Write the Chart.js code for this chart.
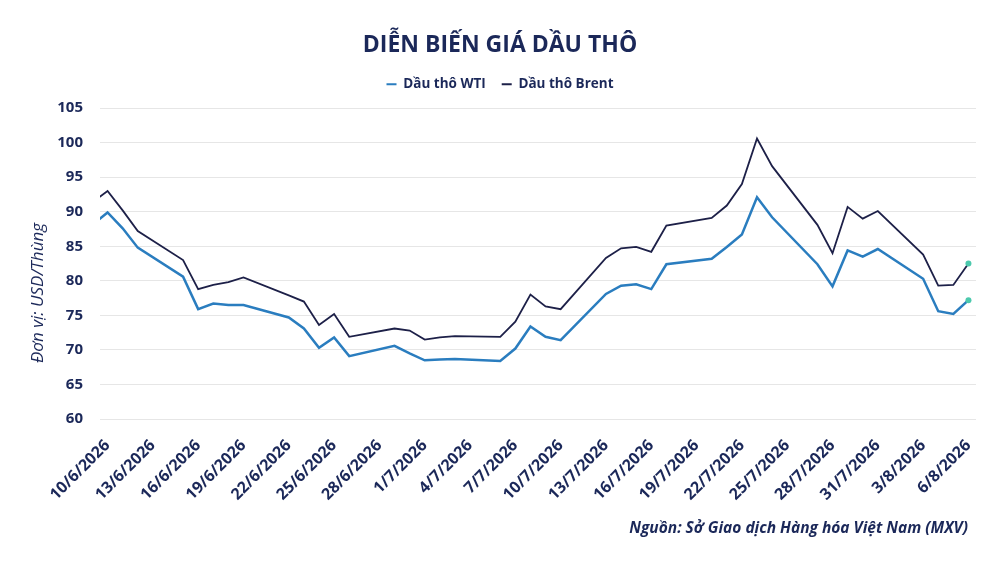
<!DOCTYPE html>
<html lang="vi">
<head>
<meta charset="utf-8">
<title>Diễn biến giá dầu thô</title>
<script src="https://cdn.jsdelivr.net/npm/chart.js@4.4.1/dist/chart.umd.min.js"></script>
<style>
  html, body { margin: 0; padding: 0; background: #fff; }
  #wrap { width: 1000px; height: 563px; position: relative; }
</style>
</head>
<body>
<div id="wrap"><canvas id="oilChart"></canvas></div>
<script>
// Ngày theo lịch (9/6 chỉ lộ một mẩu ở mép trái), giá USD/thùng, null = không giao dịch
const dates = [
  '9/6/2026', '10/6/2026', '11/6/2026', '12/6/2026', '13/6/2026', '14/6/2026', '15/6/2026',
  '16/6/2026', '17/6/2026', '18/6/2026', '19/6/2026', '20/6/2026', '21/6/2026', '22/6/2026',
  '23/6/2026', '24/6/2026', '25/6/2026', '26/6/2026', '27/6/2026', '28/6/2026', '29/6/2026',
  '30/6/2026', '1/7/2026', '2/7/2026', '3/7/2026', '4/7/2026', '5/7/2026', '6/7/2026',
  '7/7/2026', '8/7/2026', '9/7/2026', '10/7/2026', '11/7/2026', '12/7/2026', '13/7/2026',
  '14/7/2026', '15/7/2026', '16/7/2026', '17/7/2026', '18/7/2026', '19/7/2026', '20/7/2026',
  '21/7/2026', '22/7/2026', '23/7/2026', '24/7/2026', '25/7/2026', '26/7/2026', '27/7/2026',
  '28/7/2026', '29/7/2026', '30/7/2026', '31/7/2026', '1/8/2026', '2/8/2026', '3/8/2026',
  '4/8/2026', '5/8/2026', '6/8/2026'
];

const wti = [
  88.1, 89.9, 87.6, 84.8, null, null, 80.6,
  75.9, 76.7, 76.5, 76.5, null, null, 74.7,
  73.1, 70.3, 71.8, 69.1, null, null, 70.6,
  69.5, 68.5, 68.6, 68.7, null, null, 68.4,
  70.2, 73.4, 71.9, 71.4, null, null, 78.1,
  79.3, 79.5, 78.8, 82.4, null, null, 83.2,
  84.9, 86.7, 92.1, 89.2, null, null, 82.4,
  79.2, 84.4, 83.5, 84.6, null, null, 80.3,
  75.6, 75.2, 77.2
];

const brent = [
  91.4, 93.0, 90.2, 87.2, null, null, 83.0,
  78.8, 79.4, 79.8, 80.5, null, null, 77.9,
  77.0, 73.6, 75.2, 71.9, null, null, 73.1,
  72.8, 71.5, 71.8, 72.0, null, null, 71.9,
  74.1, 78.0, 76.3, 75.9, null, null, 83.3,
  84.7, 84.9, 84.2, 88.0, null, null, 89.1,
  90.9, 94.0, 100.6, 96.6, null, null, 88.1,
  84.0, 90.7, 89.0, 90.1, null, null, 83.8,
  79.3, 79.4, 82.5
];

const xTickDates = [
  '10/6/2026', '13/6/2026', '16/6/2026', '19/6/2026', '22/6/2026', '25/6/2026', '28/6/2026',
  '1/7/2026', '4/7/2026', '7/7/2026', '10/7/2026', '13/7/2026', '16/7/2026', '19/7/2026',
  '22/7/2026', '25/7/2026', '28/7/2026', '31/7/2026', '3/8/2026', '6/8/2026'
];

const seriesNames = ['Dầu thô WTI', 'Dầu thô Brent'];
const yMin = 60, yMax = 105, yStep = 5;

const NAVY = '#1b2859';
const WTI_COLOR = '#2a7dbf';
const BRENT_COLOR = '#1d2048';
const END_DOT = '#4cc9ad';
const FONT = '"Open Sans", "Noto Sans", sans-serif';

const toPoints = values => values
  .map((v, i) => ({ x: i, y: v }))
  .filter(p => p.y !== null);

const lastIdx = dates.length - 1;
const endDotRadius = ctx => (ctx.raw && ctx.raw.x === lastIdx ? 3 : 0);

// chữ phụ: tiêu đề trục tung và nguồn
const extraText = {
  id: 'extraText',
  afterDraw(chart) {
    const ctx = chart.ctx;
    ctx.save();
    ctx.fillStyle = NAVY;
    ctx.textBaseline = 'middle';

    ctx.save();
    ctx.font = 'italic 17px ' + FONT;
    ctx.textAlign = 'center';
    ctx.translate(38, 293);
    ctx.rotate(-Math.PI / 2);
    ctx.fillText('Đơn vị: USD/Thùng', 0, 0);
    ctx.restore();

    ctx.font = 'italic bold 15.5px ' + FONT;
    ctx.textAlign = 'right';
    ctx.fillText('Nguồn: Sở Giao dịch Hàng hóa Việt Nam (MXV)', 968, 529);
    ctx.restore();
  }
};

new Chart(document.getElementById('oilChart'), {
  type: 'line',
  data: {
    datasets: [
      {
        label: seriesNames[0],
        data: toPoints(wti),
        borderColor: WTI_COLOR,
        backgroundColor: WTI_COLOR,
        borderWidth: 2.5,
        pointRadius: endDotRadius,
        pointBackgroundColor: END_DOT,
        pointBorderWidth: 0,
        pointHoverRadius: 0,
        tension: 0
      },
      {
        label: seriesNames[1],
        data: toPoints(brent),
        borderColor: BRENT_COLOR,
        backgroundColor: BRENT_COLOR,
        borderWidth: 1.8,
        pointRadius: endDotRadius,
        pointBackgroundColor: END_DOT,
        pointBorderWidth: 0,
        pointHoverRadius: 0,
        tension: 0
      }
    ]
  },
  options: {
    responsive: true,
    maintainAspectRatio: false,
    animation: false,
    layout: { padding: { left: 24, right: 24, top: 0, bottom: 60 } },
    scales: {
      x: {
        type: 'linear',
        min: 0.5,
        max: lastIdx + 0.5,
        afterBuildTicks: scale => {
          scale.ticks = xTickDates.map(d => ({ value: dates.indexOf(d) }));
        },
        afterFit: scale => { scale.height = 84; },
        grid: { display: false, drawTicks: false },
        border: { display: false },
        ticks: {
          autoSkip: false,
          minRotation: 45,
          maxRotation: 45,
          padding: 17,
          color: NAVY,
          font: { family: FONT, size: 16, weight: 'bold' },
          callback: value => dates[value]
        }
      },
      // khoảng trống giữa chú giải và vùng vẽ
      gap: {
        type: 'linear',
        axis: 'x',
        position: 'top',
        afterFit: scale => { scale.height = 7; },
        grid: { display: false, drawTicks: false },
        border: { display: false },
        ticks: { display: false }
      },
      y: {
        min: yMin,
        max: yMax,
        afterFit: scale => { scale.width = 76; },
        grid: { color: '#e6e6e6', lineWidth: 1, drawTicks: false },
        border: { display: false },
        ticks: {
          stepSize: yStep,
          padding: 17,
          color: NAVY,
          font: { family: FONT, size: 15, weight: 'bold' }
        }
      }
    },
    plugins: {
      title: {
        display: true,
        text: 'DIỄN BIẾN GIÁ DẦU THÔ',
        color: NAVY,
        font: { family: FONT, size: 23, weight: 'bold' },
        padding: { top: 32, bottom: 2 }
      },
      legend: {
        position: 'top',
        labels: {
          color: NAVY,
          font: { family: FONT, size: 13.5, weight: 'bold' },
          boxWidth: 10,
          boxHeight: 2,
          padding: 16,
          generateLabels: chart => Chart.defaults.plugins.legend.labels.generateLabels(chart)
            .map(item => Object.assign(item, { lineWidth: 0 }))
        }
      },
      tooltip: { enabled: false }
    }
  },
  plugins: [extraText]
});
</script>
</body>
</html>
